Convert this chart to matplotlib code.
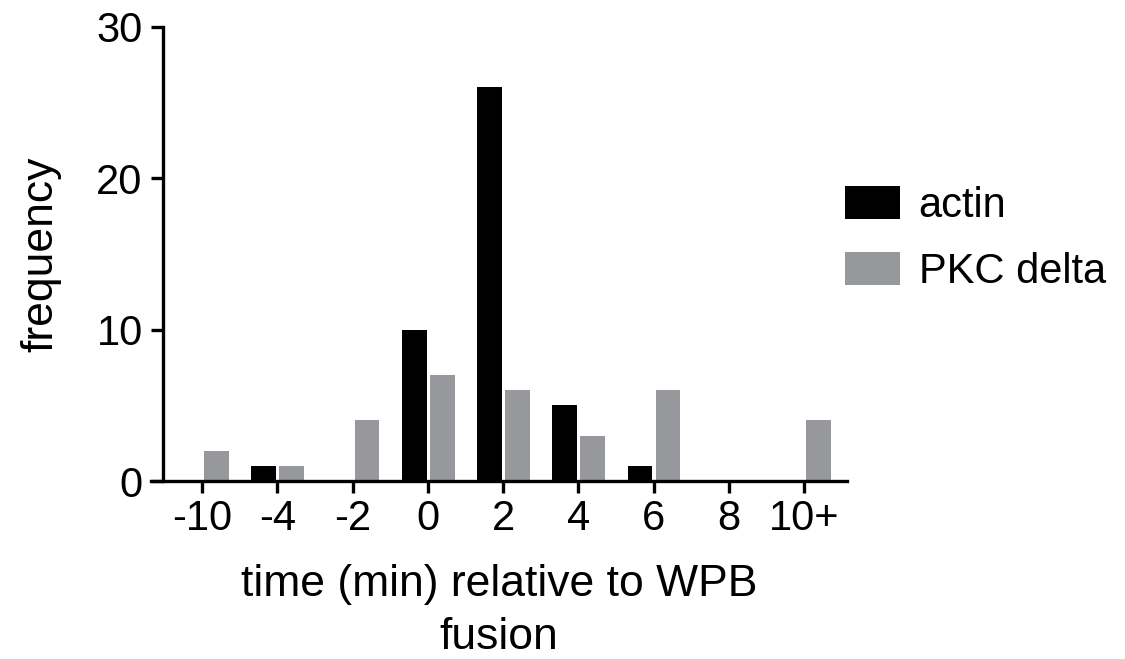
import matplotlib
matplotlib.use("Agg")
import matplotlib.pyplot as plt
import numpy as np

plt.rcParams['font.family'] = ['Liberation Sans', 'DejaVu Sans']

# bins (min relative to WPB fusion)
bins = ['-10', '-4', '-2', '0', '2', '4', '6', '8', '10+']
actin = [0, 1, 0, 10, 26, 5, 1, 0, 0]
pkc_delta = [2, 1, 4, 7, 6, 3, 6, 0, 4]

fs = 32
tfs = 30
lw = 2.4

fig = plt.figure(figsize=(11.25, 6.59), dpi=100)
ax = fig.add_axes([0.1342, 0.2701, 0.6187, 0.689])

x = np.arange(len(bins))
w = 0.33
ax.bar(x - 0.18, actin, w, color='black', label='actin')
ax.bar(x + 0.19, pkc_delta, w, color='#96989c', label='PKC delta')

ax.set_xlim(-0.68, 8.57)
ax.set_ylim(0, 30)
ax.set_yticks([0, 10, 20, 30])
ax.set_xticks(x)
ax.set_xticklabels(bins)

ax.spines['top'].set_visible(False)
ax.spines['right'].set_visible(False)
ax.spines['left'].set_position(('data', -0.52))
ax.spines['left'].set_linewidth(lw)
ax.spines['bottom'].set_linewidth(lw)
ax.tick_params(axis='both', width=lw, length=8.6, labelsize=tfs)
ax.tick_params(axis='y', pad=6)
ax.tick_params(axis='x', pad=4)

ax.set_ylabel('frequency', fontsize=fs, labelpad=25)
ax.set_xlabel('time (min) relative to WPB\nfusion', fontsize=fs, labelpad=18,
              linespacing=1.4)

ax.legend(loc='upper left', bbox_to_anchor=(0.997, 0.65), frameon=False,
          fontsize=30, handlelength=1.32, handleheight=0.86,
          handletextpad=0.45, labelspacing=0.62, borderaxespad=0,
          borderpad=0)

fig.savefig('out.png', dpi=100)
